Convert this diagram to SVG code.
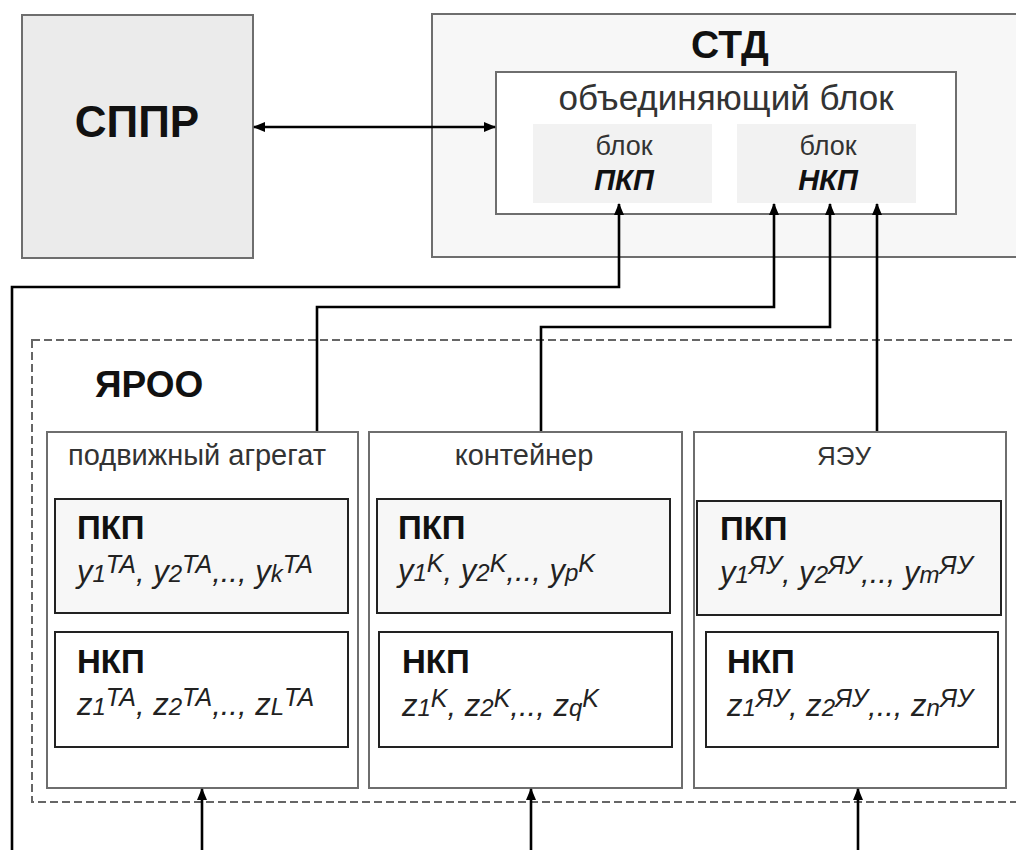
<svg xmlns="http://www.w3.org/2000/svg" width="1016" height="850" viewBox="0 0 1016 850">
<defs>
<marker id="ah" markerUnits="userSpaceOnUse" markerWidth="12" markerHeight="10" refX="11" refY="5" orient="auto-start-reverse"><path d="M0,0 L12,5 L0,10 z" fill="#000"/></marker>
<style>
text{font-family:"Liberation Sans",Arial,sans-serif;fill:#111}
.big{font-weight:bold;text-anchor:middle}
.gbox{stroke:#6e6e6e;stroke-width:2}
.ibox{stroke:#222;stroke-width:2}
.cap{text-anchor:middle;fill:#333}
.hd{font-weight:bold;font-size:33px}
.var{font-style:italic;font-size:31px;fill:#222}
.s{font-size:24px}
.p{font-size:25px}
.con{fill:none;stroke:#000;stroke-width:2.6}
</style>
</defs>
<rect width="1016" height="850" fill="#fff"/>
<g id="sppr">
<rect class="gbox" x="22" y="15" width="231" height="243" fill="#ebebeb"/>
<text class="big" x="137" y="137" font-size="44">СППР</text>
</g>
<g id="std">
<rect class="gbox" x="432" y="14" width="600" height="243" fill="#f7f7f7"/>
<text class="big" x="730" y="58" font-size="39">СТД</text>
</g>
<g id="unify">
<rect class="gbox" x="496" y="72" width="460" height="142" fill="#fff"/>
<text class="cap" x="726" y="110" font-size="35" fill="#222">объединяющий блок</text>
</g>
<g id="blockPKP">
<rect x="533" y="124" width="179" height="79" fill="#f2f2f2"/>
<text class="cap" x="624" y="155" font-size="27">блок</text>
<text class="big" x="624" y="190" font-size="29" font-style="italic">ПКП</text>
</g>
<g id="blockNKP">
<rect x="737" y="124" width="179" height="79" fill="#f2f2f2"/>
<text class="cap" x="828" y="155" font-size="27">блок</text>
<text class="big" x="828" y="190" font-size="29" font-style="italic">НКП</text>
</g>
<g id="yaroo">
<rect x="32" y="340" width="1000" height="462" fill="none" stroke="#666" stroke-width="2" stroke-dasharray="8,4"/>
<text x="95" y="397" font-size="37" font-weight="bold">ЯРОО</text>
</g>
<g id="agg">
<rect class="gbox" x="47" y="432" width="311" height="356" fill="#fff"/>
<text class="cap" x="197" y="465" font-size="29">подвижный агрегат</text>
<rect class="ibox" x="55" y="499" width="293" height="114" fill="#f7f7f7"/>
<text class="hd" x="77" y="539">ПКП</text>
<text class="var" x="77" y="582">y<tspan class="s">1</tspan><tspan class="p" dy="-9">TA</tspan><tspan dy="9">, y</tspan><tspan class="s">2</tspan><tspan class="p" dy="-9">TA</tspan><tspan dy="9">,.., y</tspan><tspan class="s">k</tspan><tspan class="p" dy="-9">TA</tspan></text>
<rect class="ibox" x="55" y="632" width="293" height="115" fill="#fff"/>
<text class="hd" x="77" y="673">НКП</text>
<text class="var" x="77" y="715">z<tspan class="s">1</tspan><tspan class="p" dy="-9">TA</tspan><tspan dy="9">, z</tspan><tspan class="s">2</tspan><tspan class="p" dy="-9">TA</tspan><tspan dy="9">,.., z</tspan><tspan class="s">L</tspan><tspan class="p" dy="-9">TA</tspan></text>
</g>
<g id="cont">
<rect class="gbox" x="369" y="432" width="313" height="356" fill="#fff"/>
<text class="cap" x="524" y="465" font-size="29">контейнер</text>
<rect class="ibox" x="377" y="499" width="293" height="114" fill="#f7f7f7"/>
<text class="hd" x="398" y="539">ПКП</text>
<text class="var" x="398" y="581">y<tspan class="s">1</tspan><tspan class="p" dy="-9">K</tspan><tspan dy="9">, y</tspan><tspan class="s">2</tspan><tspan class="p" dy="-9">K</tspan><tspan dy="9">,.., y</tspan><tspan class="s">p</tspan><tspan class="p" dy="-9">K</tspan></text>
<rect class="ibox" x="379" y="632" width="293" height="115" fill="#fff"/>
<text class="hd" x="402" y="673">НКП</text>
<text class="var" x="402" y="716">z<tspan class="s">1</tspan><tspan class="p" dy="-9">K</tspan><tspan dy="9">, z</tspan><tspan class="s">2</tspan><tspan class="p" dy="-9">K</tspan><tspan dy="9">,.., z</tspan><tspan class="s">q</tspan><tspan class="p" dy="-9">K</tspan></text>
</g>
<g id="yaeu">
<rect class="gbox" x="694" y="432" width="312" height="356" fill="#fff"/>
<text class="cap" x="844" y="465" font-size="26">ЯЭУ</text>
<rect class="ibox" x="697" y="501" width="304" height="114" fill="#f7f7f7"/>
<text class="hd" x="720" y="540">ПКП</text>
<text class="var" x="720" y="583">y<tspan class="s">1</tspan><tspan class="p" dy="-9">ЯУ</tspan><tspan dy="9">, y</tspan><tspan class="s">2</tspan><tspan class="p" dy="-9">ЯУ</tspan><tspan dy="9">,.., y</tspan><tspan class="s">m</tspan><tspan class="p" dy="-9">ЯУ</tspan></text>
<rect class="ibox" x="706" y="632" width="292" height="115" fill="#fff"/>
<text class="hd" x="727" y="673">НКП</text>
<text class="var" x="727" y="716">z<tspan class="s">1</tspan><tspan class="p" dy="-9">ЯУ</tspan><tspan dy="9">, z</tspan><tspan class="s">2</tspan><tspan class="p" dy="-9">ЯУ</tspan><tspan dy="9">,.., z</tspan><tspan class="s">n</tspan><tspan class="p" dy="-9">ЯУ</tspan></text>
</g>
<g id="connectors">
<path class="con" d="M254,127 H495" marker-start="url(#ah)" marker-end="url(#ah)"/>
<path class="con" d="M12,850 V287 H619 V204" marker-end="url(#ah)"/>
<path class="con" d="M317,431 V307 H774 V204" marker-end="url(#ah)"/>
<path class="con" d="M541,431 V327 H830 V204" marker-end="url(#ah)"/>
<path class="con" d="M877,431 V204" marker-end="url(#ah)"/>
<path class="con" d="M202,850 V789" marker-end="url(#ah)"/>
<path class="con" d="M531,850 V789" marker-end="url(#ah)"/>
<path class="con" d="M858,850 V789" marker-end="url(#ah)"/>
</g>
</svg>
